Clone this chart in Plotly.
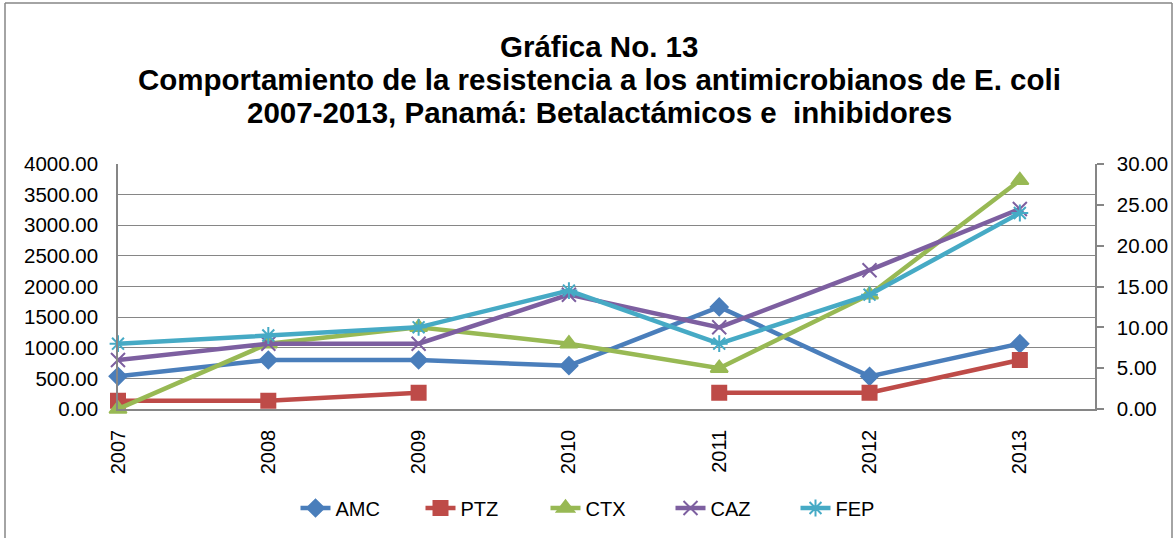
import plotly.graph_objects as go

years = ["2007", "2008", "2009", "2010", "2011", "2012", "2013"]
amc = [4, 6, 6, 5.3, 12.5, 4, 8]
ptz = [1, 1, 2, None, 2, 2, 6]
ctx = [0, 8, 10, 8, 5, 14, 28]
caz = [6, 8, 8, 14, 10, 17, 24.5]
fep = [8, 9, 10, 14.5, 8, 14, 24]

title_lines = [
    "Gráfica No. 13",
    "Comportamiento de la resistencia a los antimicrobianos de E. coli",
    "2007-2013, Panamá: Betalactámicos e  inhibidores",
]

series = [
    ("AMC", amc, "#4A7EBB", "diamond", 13),
    ("PTZ", ptz, "#BE4B48", "square", 14),
    ("CTX", ctx, "#98B954", "triangle-up", 15),
    ("CAZ", caz, "#7D5FA0", "x-thin-open", 14),
    ("FEP", fep, "#46AAC5", "asterisk-open", 14),
]

FONT = "Liberation Sans, Arial, sans-serif"
idx = list(range(len(years)))
fig = go.Figure()
# empty trace to anchor the primary (left) axis
fig.add_trace(go.Scatter(x=[None], y=[None], yaxis="y", xaxis="x",
                         showlegend=False, hoverinfo="skip"))
for name, vals, col, sym, sz in series:
    fig.add_trace(go.Scatter(
        x=idx, y=vals, name=name, yaxis="y2", mode="lines+markers",
        line=dict(color=col, width=4.5),
        marker=dict(symbol=sym, size=sz, color=col,
                    line=dict(color=col, width=2)),
        cliponaxis=False, connectgaps=False,
    ))

L, R, T, B = 118, 81, 164, 129
W, H = 1176, 538
pw = W - L - R
ph = H - T - B

def px(x):
    return (x - L) / pw

def py(y):
    return (H - B - y) / ph

annotations = []
for line, yc in zip(title_lines, [46, 79, 113]):
    annotations.append(dict(
        text="<b>" + line + "</b>", xref="paper", yref="paper",
        x=px(599), y=py(yc), xanchor="center", yanchor="middle",
        showarrow=False, font=dict(size=29.5, family=FONT, color="black"),
    ))

fig.update_layout(
    width=W, height=H,
    margin=dict(l=L, r=R, t=T, b=B, autoexpand=False),
    paper_bgcolor="white", plot_bgcolor="white",
    font=dict(family=FONT, size=20, color="black"),
    xaxis=dict(
        range=[0, 6.5], tickmode="array", tickvals=idx, ticktext=years,
        tickangle=-90, showgrid=False, zeroline=False, automargin=False,
        showline=True, linecolor="#868686", linewidth=1.5, ticks="",
        tickfont=dict(size=20), ticklabelstandoff=11,
    ),
    yaxis=dict(
        range=[0, 4000], dtick=500, tickformat=".2f", automargin=False,
        showgrid=True, gridcolor="#868686", gridwidth=1.3,
        zeroline=False, showline=True, linecolor="#868686", linewidth=1.5,
        ticks="", tickfont=dict(size=20.5), ticklabelstandoff=14,
    ),
    yaxis2=dict(
        range=[0, 30], dtick=5, tickformat=".2f", overlaying="y", side="right",
        showgrid=False, zeroline=False, showline=True, linecolor="#868686",
        linewidth=1.5, ticks="outside", ticklen=7, tickcolor="#868686",
        tickwidth=1.5, tickfont=dict(size=20.5), automargin=False,
        ticklabelstandoff=9,
    ),
    legend=dict(
        orientation="h", x=px(608), xanchor="center", y=py(508), yanchor="middle",
        font=dict(size=20), tracegroupgap=0, entrywidth=80, entrywidthmode="pixels",
    ),
    showlegend=True,
    annotations=annotations,
    shapes=[
        dict(type="line", xref="paper", yref="paper", x0=px(5), x1=px(5),
             y0=py(3), y1=py(545), line=dict(color="#868686", width=1.5)),
        dict(type="line", xref="paper", yref="paper", x0=px(5), x1=px(1172),
             y0=py(3), y1=py(3), line=dict(color="#868686", width=1.5)),
        dict(type="line", xref="paper", yref="paper", x0=px(1172), x1=px(1172),
             y0=py(3), y1=py(545), line=dict(color="#868686", width=1.5)),
    ],
)

fig.write_html(
    "out.html",
    config={"displayModeBar": False},
    post_script="document.body.style.margin='0px';document.body.style.overflow='hidden';",
)
